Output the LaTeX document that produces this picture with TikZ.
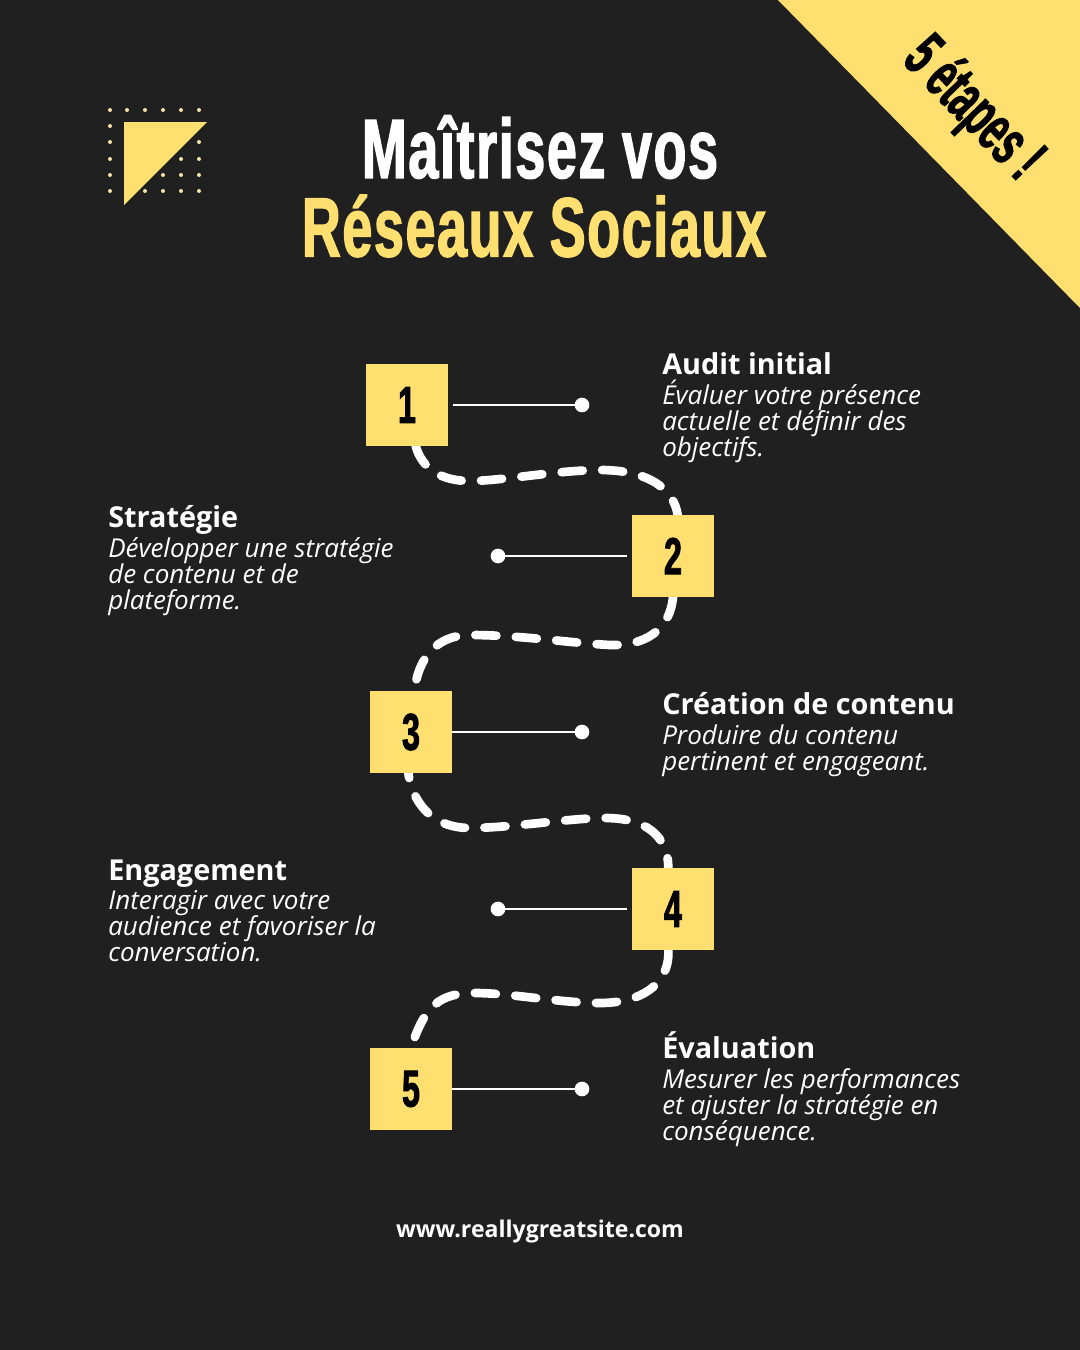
\documentclass[tikz,border=0pt]{standalone}
\usepackage{fontspec}
\setmainfont{Open Sans}
\newfontfamily\antonfont[FakeStretch=0.62,FakeBold=1.6]{Liberation Sans}
\newfontfamily\titlefont[FakeStretch=0.64,FakeBold=1.6,LetterSpace=2]{Liberation Sans}
\newfontfamily\badgefont[FakeStretch=0.56,FakeBold=1.4]{Liberation Sans}
\lineskiplimit=-10pt
\usetikzlibrary{positioning,backgrounds}
\definecolor{pagebg}{HTML}{202020}
\definecolor{sun}{HTML}{FFDF70}
\definecolor{speck}{HTML}{F6E4A8}
\tikzset{stepbox/.style={fill=sun, minimum size=61.5pt, inner sep=0, outer sep=0, text=black, font=\antonfont\bfseries\fontsize{39}{39}\selectfont}}
\tikzset{endpt/.style={circle, fill=white, minimum size=11pt, inner sep=0, outer sep=0}}
\tikzset{link/.style={draw=white, line width=1.5pt}}
\tikzset{trail/.style={draw=white, line width=6.5pt, line cap=round, dash pattern=on 15.8pt off 14.6pt}}
\tikzset{heading/.style={anchor=base west, inner sep=0, text=white, font=\bfseries\fontsize{21.6}{24}\selectfont}}
\tikzset{blurb/.style={anchor=north west, inner sep=0, text=white, align=left, font=\itshape\fontsize{19.5}{19.5}\selectfont}}
\tikzset{headline/.style={inner sep=0, font=\titlefont\bfseries\fontsize{63}{63}\selectfont}}
\begin{document}
\begin{tikzpicture}[x=0.75pt,y=-0.75pt]
	   \useasboundingbox (0,0) rectangle (1080,1350);
	   \begin{scope}[on background layer]
		   \fill[pagebg] (0,0) rectangle (1080,1350);
	   \end{scope}
	   \fill[sun] (778,0) -- (1080,0) -- (1080,308) -- cycle;
	   \node[rotate=-46, text=black, font=\badgefont\bfseries\fontsize{49}{49}\selectfont] (badge) at (972,110) {5 étapes !};
	   % corner icon
	   \foreach \px/\py in {110/110,127/110,145/110,163/110,181/110,199/110,110/126,110/142,110/159,110/175,110/191,199/142,181/159,199/159,163/175,181/175,199/175,145/191,163/191,181/191,199/191}
		   \fill[speck] (\px,\py) circle (1.5pt);
	   \fill[sun] (124,122) -- (207,122) -- (124,205) -- cycle;
	   % title
	   \node[headline, text=white] (title) at (540,147) {Maîtrisez vos};
	   \node[headline, text=sun] (subtitle) at (534,226) {Réseaux Sociaux};
	   % steps
	   \node[stepbox] (n1) at (407,405) {1};
	   \node[stepbox] (n2) at (673,556) {2};
	   \node[stepbox] (n3) at (411,732) {3};
	   \node[stepbox] (n4) at (673,909) {4};
	   \node[stepbox] (n5) at (411,1089) {5};
	   \node[endpt, right=95pt of n1] (d1) {};
	   \node[endpt, left=95pt of n2] (d2) {};
	   \node[endpt, right=92pt of n3] (d3) {};
	   \node[endpt, left=95pt of n4] (d4) {};
	   \node[endpt, right=92pt of n5] (d5) {};
	   \draw[link, shorten <=3.5pt] (n1) -- (d1);
	   \draw[link, shorten <=3.5pt] (n2) -- (d2);
	   \draw[link] (n3) -- (d3);
	   \draw[link, shorten <=3.5pt] (n4) -- (d4);
	   \draw[link] (n5) -- (d5);
	   \begin{scope}[on background layer]
		   \draw[trail] ([xshift=6.5pt]n1.south)
			   .. controls (422,468) and (440,481) .. (470,481)
			   .. controls (500,481) and (560,470) .. (600,470)
			   .. controls (650,470) and (674,490) .. ([xshift=3.5pt]n2.north);
		   \draw[trail] (n2.south)
			   .. controls (670,630) and (645,646) .. (610,645)
			   .. controls (570,643) and (520,635) .. (470,635)
			   .. controls (435,635) and (418,660) .. ([xshift=2.5pt]n3.north);
		   \draw[trail, dash phase=12pt] ([xshift=-2pt]n3.south)
			   .. controls (412,800) and (430,828) .. (470,828)
			   .. controls (510,828) and (570,818) .. (605,818)
			   .. controls (645,818) and (668,835) .. ([xshift=-3.5pt]n4.north);
		   \draw[trail] ([xshift=-3.5pt]n4.south)
			   .. controls (670,985) and (640,1003) .. (600,1003)
			   .. controls (560,1003) and (510,993) .. (475,993)
			   .. controls (440,993) and (425,1005) .. (n5.north);
	   \end{scope}
	   % labels
	   \node[heading] (h1) at (662,374) {Audit initial};
	   \node[blurb] (b1) at (662,380) {Évaluer votre présence\\actuelle et définir des\\objectifs.};
	   \node[heading] (h2) at (108,527) {Stratégie};
	   \node[blurb] (b2) at (108,537) {Développer une stratégie\\de contenu et de\\plateforme.};
	   \node[heading] (h3) at (662,714) {Création de contenu};
	   \node[blurb] (b3) at (662,724) {Produire du contenu\\pertinent et engageant.};
	   \node[heading] (h4) at (108,880) {Engagement};
	   \node[blurb] (b4) at (108,890) {Interagir avec votre\\audience et favoriser la\\conversation.};
	   \node[heading] (h5) at (662,1058) {Évaluation};
	   \node[blurb] (b5) at (662,1068) {Mesurer les performances\\et ajuster la stratégie en\\conséquence.};
	   \node[text=white, inner sep=0, font=\bfseries\fontsize{17.3}{20}\selectfont] (site) at (540,1231) {www.reallygreatsite.com};
\end{tikzpicture}
\end{document}
